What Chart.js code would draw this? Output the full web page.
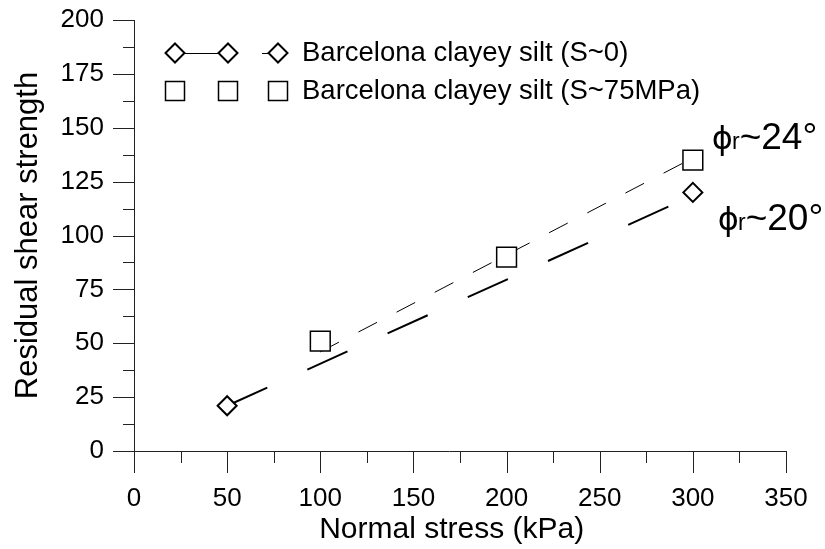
<!DOCTYPE html>
<html>
<head>
<meta charset="utf-8">
<script src="https://cdn.jsdelivr.net/npm/chart.js@4.4.1/dist/chart.umd.min.js"></script>
<style>
  html, body { margin: 0; padding: 0; background: #fff; }
  #wrap { width: 825px; height: 549px; }
</style>
</head>
<body>
<div id="wrap"><canvas id="chart" width="825" height="549"></canvas></div>
<script>
// measured points
const stressS0 = [50, 300];
const strengthS0 = [21, 120];
const stressS75 = [100, 200, 300];
const strengthS75 = [51, 90, 135];

// fitted envelopes
const fit20X = [50, 300];
const fit20Y = [21, 118.5];
const fit24X = [100, 300];
const fit24Y = [46, 136];

const seriesNames = ["Barcelona clayey silt (S~0)", "Barcelona clayey silt (S~75MPa)"];
const angleLabels = ["24°", "20°"];

const xTicks = [0, 50, 100, 150, 200, 250, 300, 350];
const yTicks = [0, 25, 50, 75, 100, 125, 150, 175, 200];

const FONT = "'Liberation Sans', Arial, sans-serif";
const INK = "#000";

function pts(xs, ys) {
    return xs.map((x, i) => ({ x: x, y: ys[i] }));
}

// axis lines with major and minor ticks, Grapher style
const axesPlugin = {
    id: "axesPlugin",
    afterDraw(chart) {
        const ctx = chart.ctx;
        const xs = chart.scales.x, ys = chart.scales.y;
        const x0 = xs.getPixelForValue(0), y0 = ys.getPixelForValue(0);
        ctx.save();
        ctx.strokeStyle = "#222";
        ctx.lineWidth = 1;
        ctx.beginPath();
        // y axis, continues down as the x tick at 0
        ctx.moveTo(x0 + 0.5, ys.getPixelForValue(200));
        ctx.lineTo(x0 + 0.5, y0 + 22);
        // x axis, continues left as the y tick at 0
        ctx.moveTo(x0 - 21, y0 + 0.5);
        ctx.lineTo(xs.getPixelForValue(350), y0 + 0.5);
        for (let v = 0; v <= 350; v += 25) {
            const p = Math.round(xs.getPixelForValue(v)) + 0.5;
            const len = v % 50 === 0 ? 22 : 12;
            ctx.moveTo(p, y0);
            ctx.lineTo(p, y0 + len);
        }
        for (let v = 0; v <= 200; v += 12.5) {
            const p = Math.round(ys.getPixelForValue(v)) + 0.5;
            const len = v % 25 === 0 ? 21 : 11;
            ctx.moveTo(x0, p);
            ctx.lineTo(x0 - len, p);
        }
        ctx.stroke();
        ctx.restore();
    }
};

function diamond(ctx, x, y, r) {
    ctx.beginPath();
    ctx.moveTo(x, y - r);
    ctx.lineTo(x + r, y);
    ctx.lineTo(x, y + r);
    ctx.lineTo(x - r, y);
    ctx.closePath();
    ctx.fillStyle = "#fff";
    ctx.fill();
    ctx.lineWidth = 2;
    ctx.strokeStyle = INK;
    ctx.stroke();
}

function square(ctx, x, y, s) {
    ctx.fillStyle = "#fff";
    ctx.fillRect(x - s / 2, y - s / 2, s, s);
    ctx.lineWidth = 1.5;
    ctx.strokeStyle = INK;
    ctx.strokeRect(x - s / 2, y - s / 2, s, s);
}

const legendPlugin = {
    id: "legendPlugin",
    afterDraw(chart) {
        const ctx = chart.ctx;
        ctx.save();
        const r1 = 53, r2 = 91;
        ctx.strokeStyle = INK;
        ctx.lineWidth = 1;
        ctx.beginPath();
        ctx.moveTo(175, r1 + 0.5);
        ctx.lineTo(228, r1 + 0.5);
        ctx.moveTo(262, r1 + 0.5);
        ctx.lineTo(278, r1 + 0.5);
        ctx.stroke();
        diamond(ctx, 175, r1, 9.5);
        diamond(ctx, 228, r1, 9.5);
        diamond(ctx, 278, r1, 9.5);
        square(ctx, 175, r2, 19);
        square(ctx, 228, r2, 19);
        square(ctx, 278, r2, 19);
        ctx.fillStyle = INK;
        ctx.font = "27.5px " + FONT;
        ctx.textBaseline = "middle";
        ctx.textAlign = "left";
        ctx.fillText(seriesNames[0], 302, r1);
        ctx.fillText(seriesNames[1], 302, r2);
        ctx.restore();
    }
};

const anglePlugin = {
    id: "anglePlugin",
    afterDraw(chart) {
        const ctx = chart.ctx;
        const xs = chart.scales.x, ys = chart.scales.y;
        ctx.save();
        ctx.fillStyle = INK;
        ctx.textBaseline = "alphabetic";
        ctx.textAlign = "left";
        const spots = [
            { x: xs.getPixelForValue(300) + 19, y: ys.getPixelForValue(135) - 11 },
            { x: xs.getPixelForValue(300) + 25, y: ys.getPixelForValue(100) - 6 }
        ];
        spots.forEach((s, i) => {
            let x = s.x;
            ctx.font = "32px 'DejaVu Sans', " + FONT;
            ctx.fillText("\u03D5", x, s.y);
            x += ctx.measureText("\u03D5").width - 1;
            ctx.font = "23px " + FONT;
            ctx.fillText("r", x, s.y);
            x += ctx.measureText("r").width;
            ctx.font = "37px " + FONT;
            ctx.fillText("~" + angleLabels[i], x, s.y);
        });
        ctx.restore();
    }
};

new Chart(document.getElementById("chart").getContext("2d"), {
    type: "scatter",
    data: {
        datasets: [
            {
                label: seriesNames[1],
                data: pts(stressS75, strengthS75),
                pointStyle: "rect",
                pointRadius: 14,
                pointHoverRadius: 14,
                pointBorderWidth: 1.5,
                borderColor: INK,
                backgroundColor: "#fff",
                showLine: false
            },
            {
                label: seriesNames[0],
                data: pts(stressS0, strengthS0),
                pointStyle: "rectRot",
                pointRadius: 9.5,
                pointHoverRadius: 9.5,
                pointBorderWidth: 2,
                borderColor: INK,
                backgroundColor: "#fff",
                showLine: false
            },
            {
                label: "fit 24",
                data: pts(fit24X, fit24Y),
                showLine: true,
                pointRadius: 0,
                borderColor: INK,
                borderWidth: 1,
                borderDash: [21, 22]
            },
            {
                label: "fit 20",
                data: pts(fit20X, fit20Y),
                showLine: true,
                pointRadius: 0,
                borderColor: INK,
                borderWidth: 2,
                borderDash: [44, 44]
            }
        ]
    },
    options: {
        responsive: false,
        animation: false,
        events: [],
        layout: { autoPadding: false, padding: { top: 20, right: 39, left: 0, bottom: 0 } },
        plugins: {
            legend: { display: false },
            tooltip: { enabled: false }
        },
        scales: {
            x: {
                type: "linear",
                min: 0,
                max: 350,
                afterFit: (s) => { s.height = 98; },
                afterBuildTicks: (s) => { s.ticks = xTicks.map(v => ({ value: v })); },
                // tick marks are drawn by axesPlugin; tickLength only offsets the labels
                grid: { display: false, drawTicks: true, tickLength: 30 },
                border: { display: false },
                ticks: { color: INK, padding: 2, maxRotation: 0, font: { family: FONT, size: 26 } },
                title: {
                    display: true,
                    text: "Normal stress (kPa)\u00a0\u00a0",
                    color: INK,
                    padding: { top: 0, bottom: 1 },
                    font: { family: FONT, size: 30 }
                }
            },
            y: {
                type: "linear",
                min: 0,
                max: 200,
                afterFit: (s) => { s.width = 134; },
                afterBuildTicks: (s) => { s.ticks = yTicks.map(v => ({ value: v })); },
                grid: { display: false, drawTicks: true, tickLength: 28 },
                border: { display: false },
                ticks: { color: INK, padding: 2, font: { family: FONT, size: 26 } },
                title: {
                    display: true,
                    text: "Residual shear strength",
                    color: INK,
                    padding: { top: 10, bottom: 0 },
                    font: { family: FONT, size: 31 }
                }
            }
        }
    },
    plugins: [axesPlugin, legendPlugin, anglePlugin]
});
</script>
</body>
</html>
